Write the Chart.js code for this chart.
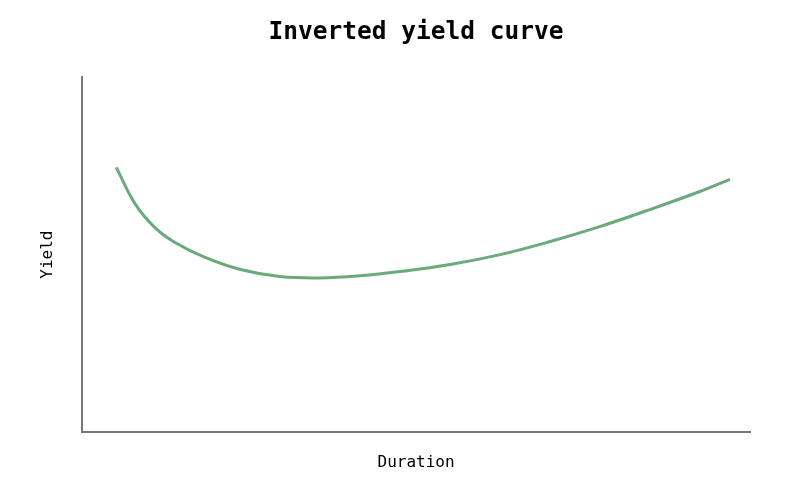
<!DOCTYPE html>
<html>
<head>
<meta charset="utf-8">
<script src="https://cdn.jsdelivr.net/npm/chart.js@4/dist/chart.umd.min.js"></script>
<style>
  html, body { margin: 0; padding: 0; background: #fff; }
  #wrap { width: 812px; height: 500px; }
</style>
</head>
<body>
<div id="wrap"><canvas id="grafico"></canvas></div>
<script>
// dados (escala 0-100 nos dois eixos, sem marcas)
const duracoes = [5.1, 7.9, 10.9, 13.9, 18.4, 23.7, 29.6, 35.6, 41.6, 47.6, 55.1, 62.6, 70.1, 77.5, 85.0, 92.5, 97.0];
const rendimentos = [74.6, 64.4, 57.6, 53.4, 49.2, 45.8, 43.8, 43.4, 44.0, 45.2, 47.2, 50.0, 53.7, 57.9, 62.7, 67.8, 71.2];

const titulo = 'Inverted yield curve';
const rotuloX = 'Duration';
const rotuloY = 'Yield';

const pontos = duracoes.map((d, i) => ({ x: d, y: rendimentos[i] }));
const fonte = 'DejaVu Sans Mono';

const ctx = document.getElementById('grafico').getContext('2d');
new Chart(ctx, {
    type: 'line',
    data: {
        datasets: [{
            data: pontos,
            borderColor: '#6aaa7b',
            borderWidth: 3,
            pointRadius: 0,
            tension: 0.4,
            fill: false
        }]
    },
    options: {
        responsive: true,
        maintainAspectRatio: false,
        animation: false,
        layout: { padding: { left: 30, right: 10, top: 0, bottom: 8 } },
        plugins: {
            legend: { display: false },
            tooltip: { enabled: false },
            title: {
                display: true,
                text: titulo,
                color: '#000',
                font: { family: fonte, size: 24.5, weight: 'bold' },
                padding: { top: 18, bottom: 30 }
            }
        },
        scales: {
            x: {
                type: 'linear',
                min: 0,
                max: 100,
                grid: { display: false, drawTicks: false },
                ticks: { display: false },
                border: { display: true, color: '#777', width: 2 },
                title: {
                    display: true,
                    text: rotuloX,
                    color: '#000',
                    font: { family: fonte, size: 16 },
                    padding: { top: 21, bottom: 20 }
                }
            },
            y: {
                min: 0,
                max: 100,
                grid: { display: false, drawTicks: false },
                ticks: { display: false },
                border: { display: true, color: '#777', width: 2 },
                title: {
                    display: true,
                    text: rotuloY,
                    color: '#000',
                    font: { family: fonte, size: 16 },
                    padding: { top: 8, bottom: 25 }
                }
            },
            // eixo vazio so para reservar espaco a direita (centraliza o titulo)
            espaco: {
                position: 'right',
                grid: { display: false, drawTicks: false },
                ticks: { display: false },
                border: { display: false },
                afterFit: (escala) => { escala.width = 52; }
            }
        }
    }
});
</script>
</body>
</html>
